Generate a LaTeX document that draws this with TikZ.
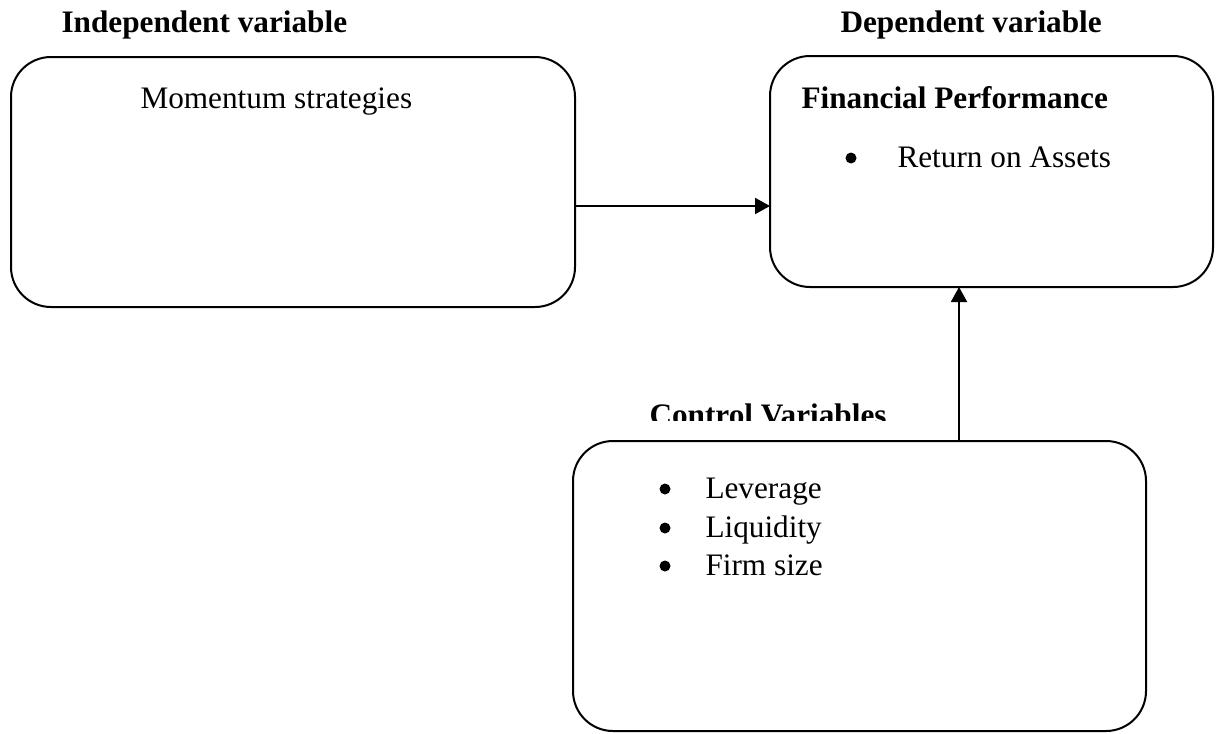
\documentclass[tikz,border=0pt]{standalone}
\usepackage{fontspec}
\setmainfont{Liberation Serif}
\usepackage{tikz}
\usetikzlibrary{arrows.meta,calc,positioning}

\tikzset{
  varbox/.style={draw, line width=0.8pt, rounded corners=16pt, inner sep=0pt, outer sep=0pt},
  txt/.style={anchor=base west, inner sep=0pt, font=\fontsize{12.5}{15.4}\selectfont},
  hdr/.style={txt, font=\fontsize{12.5}{15.4}\selectfont\bfseries},
  dot/.style={circle, fill, inner sep=0pt, minimum size=4.4pt},
  link/.style={line width=0.8pt, -{Triangle[length=6pt, width=6.4pt]}}
}

\begin{document}
\begin{tikzpicture}[x=0.4pt, y=-0.4pt]
    \useasboundingbox (0,0) rectangle (1217,733);

    % Headings
    \node[hdr] (indephdr) at (61,32) {Independent variable};
    \node[hdr] (dephdr) at (840,32) {Dependent variable};

    % Independent variable box
    \node[varbox, minimum width=564*0.4pt, minimum height=250*0.4pt] (momentum) at (293,182) {};
    \node[txt] (momtxt) at (140,108) {Momentum strategies};

    % Dependent variable box
    \node[varbox, minimum width=443*0.4pt, minimum height=231*0.4pt] (finperf) at (991.5,171.5) {};
    \node[hdr] (fintxt) at (801,108) {Financial Performance};
    \node[dot] (roadot) at (851,158) {};
    \node[txt] (roatxt) at (897,167) {Return on Assets};

    % Control variables (heading cut off at the bottom)
    \begin{scope}
        \clip (600,380) rectangle (950,420);
        \node[hdr] (ctrlhdr) at (649,425) {Control Variables};
    \end{scope}
    \node[varbox, minimum width=573*0.4pt, minimum height=290*0.4pt] (controls) at (859.5,586) {};
    \node[dot] (levdot) at (665,489) {};
    \node[txt] (levtxt) at (705,498) {Leverage};
    \node[dot] (liqdot) at (665,528) {};
    \node[txt] (liqtxt) at (705,537) {Liquidity};
    \node[dot] (sizedot) at (665,566) {};
    \node[txt] (sizetxt) at (705,575) {Firm size};

    % Connectors
    \coordinate (momout) at ([yshift=-9.6pt]momentum.east);
    \draw[link] (momout) -- (momout -| finperf.west);
    \coordinate (ctrlout) at ([xshift=39.8pt]controls.north);
    \draw[link] (ctrlout) -- (ctrlout |- finperf.south);

\end{tikzpicture}
\end{document}
